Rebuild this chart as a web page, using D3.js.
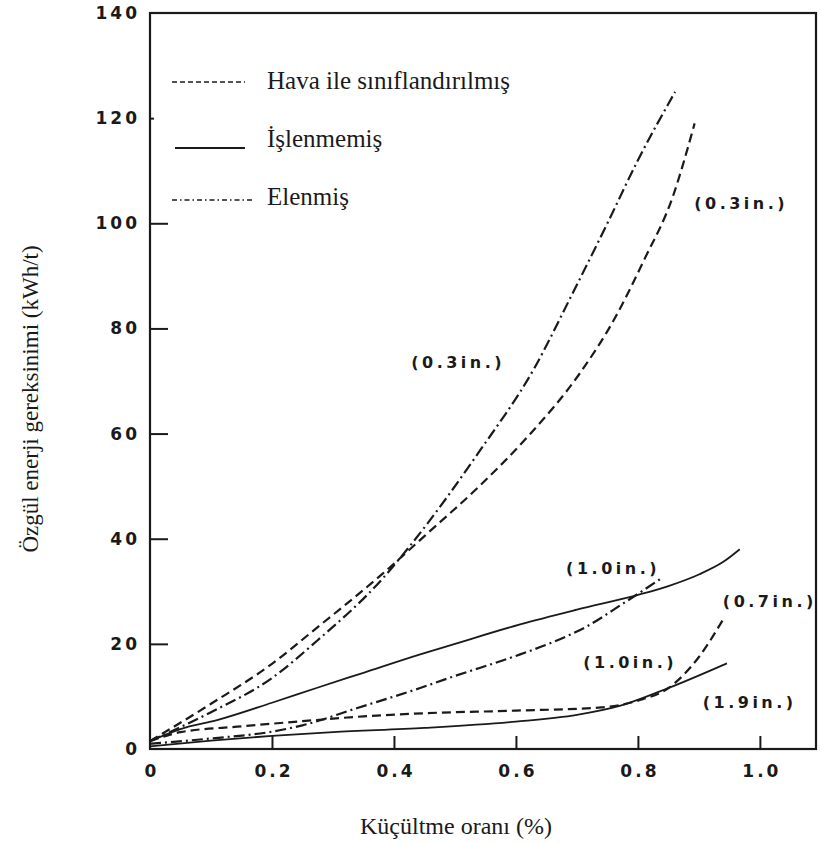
<!DOCTYPE html>
<html>
<head>
<meta charset="utf-8">
<script src="https://cdn.jsdelivr.net/npm/d3@7"></script>
<style>
  body { margin: 0; background: #fff; }
  .tick-label { font-family: "DejaVu Sans", sans-serif; font-weight: bold; fill: #1a1a1a; }
  .serif { font-family: "Liberation Serif", "Times New Roman", serif; fill: #1a1a1a; }
</style>
</head>
<body>
<div id="chart"></div>
<script>
// Axis ticks
const xTicks = [0, 0.2, 0.4, 0.6, 0.8, 1.0];
const yTicks = [0, 20, 40, 60, 80, 100, 120, 140];

// Hava ile sınıflandırılmış (dashed) 0.3 in.
const havaX03 = [0, 0.1, 0.2, 0.273, 0.382, 0.45, 0.54, 0.62, 0.705, 0.76, 0.81, 0.857, 0.893];
const havaY03 = [1.5, 8.6, 16.2, 23, 33.4, 40.5, 50, 59.5, 71.5, 81.5, 93, 105, 119];

// Hava ile sınıflandırılmış (dashed) 0.7 in.
const havaX07 = [0, 0.05, 0.15, 0.25, 0.35, 0.45, 0.6, 0.74, 0.8, 0.85, 0.9, 0.94];
const havaY07 = [1.5, 3.2, 4.3, 5.3, 6.2, 6.8, 7.3, 7.9, 9.2, 11.6, 17.5, 24.7];

// Elenmiş (dash-dot) 0.3 in.
const elenX03 = [0, 0.1, 0.2, 0.273, 0.382, 0.426, 0.54, 0.63, 0.69, 0.75, 0.80, 0.861];
const elenY03 = [1.5, 7, 13.5, 20.5, 32.5, 38.6, 56.6, 72.4, 86, 100, 112, 125];

// Elenmiş (dash-dot) 1.0 in.
const elenX10 = [0, 0.1, 0.2, 0.25, 0.34, 0.443, 0.49, 0.607, 0.66, 0.716, 0.776, 0.839];
const elenY10 = [1, 2, 3.3, 4.5, 7.8, 11.6, 13.5, 18, 20.3, 23.3, 27.7, 32.5];

// İşlenmemiş (solid) 1.0 in.
const islenX10 = [0, 0.05, 0.11, 0.2, 0.273, 0.35, 0.443, 0.5, 0.607, 0.7, 0.803, 0.85, 0.9, 0.94, 0.967];
const islenY10 = [1.5, 3.8, 5.5, 8.8, 11.6, 14.5, 18, 20, 23.7, 26.5, 29.4, 31, 33.2, 35.6, 38];

// İşlenmemiş (solid) 1.9 in.
const islenX19 = [0, 0.1, 0.2, 0.3, 0.45, 0.6, 0.7, 0.77, 0.85, 0.946];
const islenY19 = [0.5, 1.6, 2.5, 3.2, 4, 5.2, 6.5, 8.2, 11.6, 16.3];

// curve labels (data units)
const labelText = ["(0.3in.)", "(0.3in.)", "(1.0in.)", "(0.7in.)", "(1.0in.)", "(1.9in.)"];
const labelX = [0.966, 0.502, 0.756, 1.013, 0.784, 0.98];
const labelY = [103.7, 73.6, 34.4, 28.0, 16.4, 8.8];

const legendNames = ["Hava ile sınıflandırılmış", "İşlenmemiş", "Elenmiş"];

const W = 821, H = 844;
const svg = d3.select("#chart").append("svg")
  .attr("width", W)
  .attr("height", H);

svg.append("rect").attr("width", W).attr("height", H).attr("fill", "#fff");

const xScale = d3.scaleLinear().domain([0, 1.092]).range([150, 816]);
const yScale = d3.scaleLinear().domain([0, 140]).range([749, 13]);

const ink = "#1a1a1a";
const dashed = "9,5";
const dashDot = "11,4,2,4";

// frame
svg.append("rect")
  .attr("x", xScale(0)).attr("y", yScale(140))
  .attr("width", xScale(1.092) - xScale(0))
  .attr("height", yScale(0) - yScale(140))
  .attr("fill", "none").attr("stroke", ink).attr("stroke-width", 2.2);

// y axis (ticks pointing inward)
const yAxis = svg.append("g")
  .attr("transform", `translate(${xScale(0)},0)`)
  .call(d3.axisLeft(yScale).tickValues(yTicks).tickSize(-18).tickPadding(28).tickFormat(d3.format("d")));
yAxis.select(".domain").remove();
yAxis.selectAll(".tick line").attr("stroke", ink).attr("stroke-width", 2)
  .attr("x2", d => d === 120 ? 4 : (d === 0 || d === 140 ? 0 : 18));
yAxis.selectAll(".tick text")
  .attr("class", "tick-label")
  .attr("font-size", 17).attr("letter-spacing", 3)
  .attr("x", -10).attr("text-anchor", "end");

// x axis
const xAxis = svg.append("g")
  .attr("transform", `translate(0,${yScale(0)})`)
  .call(d3.axisBottom(xScale).tickValues(xTicks).tickSize(-13).tickPadding(16).tickFormat(d => d === 0 ? "0" : d3.format(".1f")(d)));
xAxis.select(".domain").remove();
xAxis.selectAll(".tick line").attr("stroke", ink).attr("stroke-width", 2)
  .attr("y2", d => d === 0 ? 0 : -13);
xAxis.selectAll(".tick text")
  .attr("class", "tick-label")
  .attr("font-size", 17).attr("letter-spacing", 3)
  .attr("dx", 1.5);

// curves
const line = d3.line()
  .x(d => xScale(d[0]))
  .y(d => yScale(d[1]))
  .curve(d3.curveMonotoneX);

const curves = [
  { xs: havaX03, ys: havaY03, dash: dashed, w: 2.2 },
  { xs: havaX07, ys: havaY07, dash: dashed, w: 2.2 },
  { xs: elenX03, ys: elenY03, dash: dashDot, w: 2.2 },
  { xs: elenX10, ys: elenY10, dash: dashDot, w: 2.2 },
  { xs: islenX10, ys: islenY10, dash: null, w: 1.8 },
  { xs: islenX19, ys: islenY19, dash: null, w: 1.8 }
];

svg.append("g").selectAll("path")
  .data(curves)
  .enter().append("path")
  .attr("d", c => line(c.xs.map((x, i) => [x, c.ys[i]])))
  .attr("fill", "none")
  .attr("stroke", ink)
  .attr("stroke-width", c => c.w)
  .attr("stroke-dasharray", c => c.dash);

// curve labels
svg.append("g").selectAll("text")
  .data(labelText)
  .enter().append("text")
  .attr("class", "tick-label")
  .attr("font-size", 16)
  .attr("letter-spacing", 3.5)
  .attr("text-anchor", "middle")
  .attr("dominant-baseline", "central")
  .attr("x", (d, i) => xScale(labelX[i]) + 2)
  .attr("y", (d, i) => yScale(labelY[i]))
  .text(d => d);

// legend
const legendDash = ["5,3", null, "5,3,1.5,3"];
const legendLineY = [82, 148, 200];
const legendTextY = [89, 147, 205];
const legend = svg.append("g");
legendNames.forEach((name, i) => {
  legend.append("line")
    .attr("x1", i === 1 ? 175 : 172).attr("x2", i === 2 ? 253 : 245)
    .attr("y1", legendLineY[i]).attr("y2", legendLineY[i])
    .attr("stroke", ink).attr("stroke-width", i === 1 ? 2 : 1.6)
    .attr("stroke-dasharray", legendDash[i]);
  legend.append("text")
    .attr("class", "serif")
    .attr("x", 267).attr("y", legendTextY[i])
    .attr("font-size", 25)
    .text(name);
});

// axis titles
svg.append("text")
  .attr("class", "serif")
  .attr("font-size", 24)
  .attr("text-anchor", "middle")
  .attr("x", 456).attr("y", 834)
  .text("Küçültme oranı (%)");

svg.append("text")
  .attr("class", "serif")
  .attr("font-size", 23)
  .attr("text-anchor", "middle")
  .attr("transform", "translate(38,399) rotate(-90)")
  .text("Özgül enerji gereksinimi (kWh/t)");
</script>
</body>
</html>
